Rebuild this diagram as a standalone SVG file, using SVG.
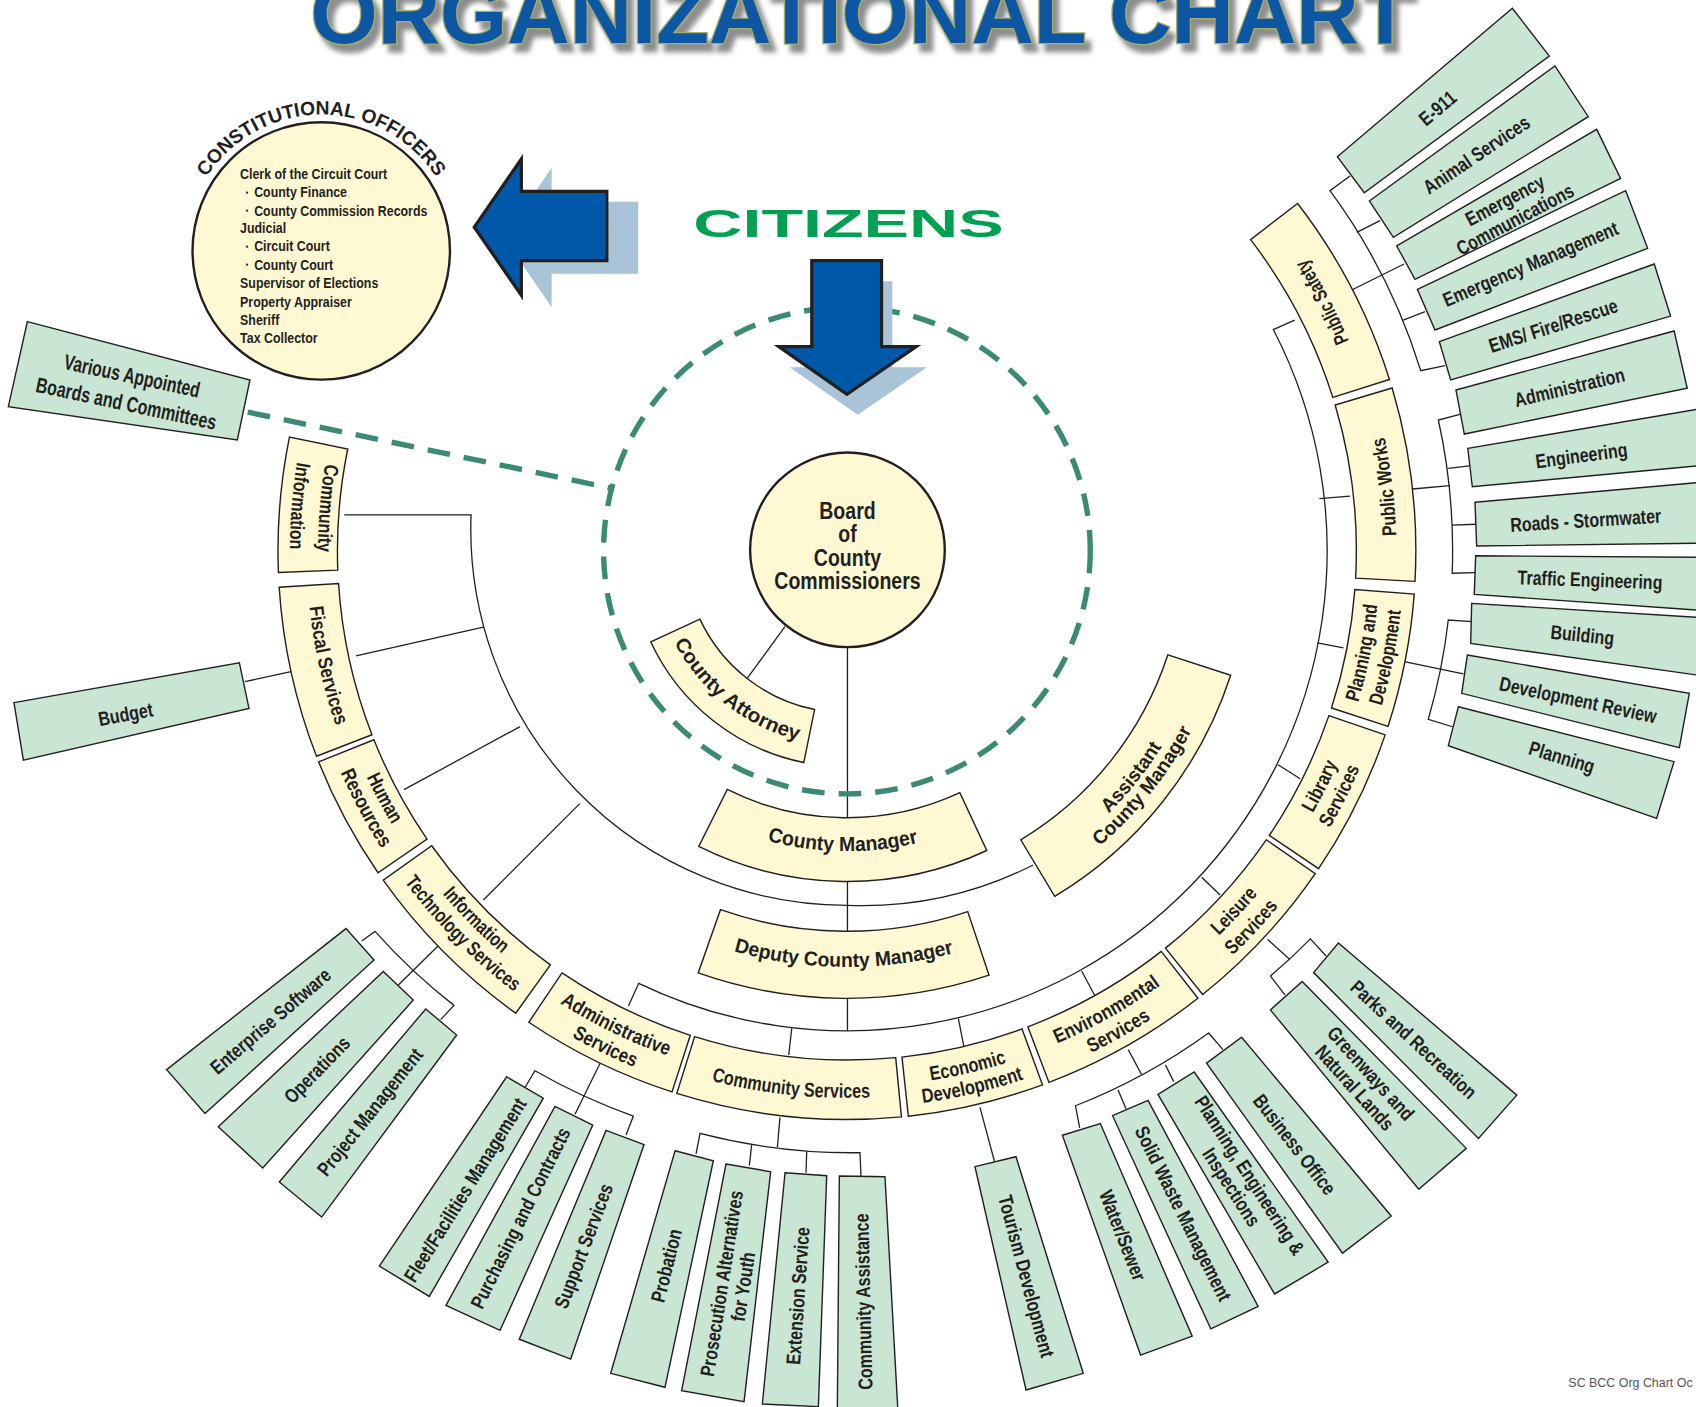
<svg xmlns="http://www.w3.org/2000/svg" width="1696" height="1407" viewBox="0 0 1696 1407">
<defs>
<style>
.y{fill:#fff9d3;stroke:#231f20;stroke-width:1.3}
.g{fill:#c9e5d3;stroke:#231f20;stroke-width:1.3}
.ln{fill:none;stroke:#231f20;stroke-width:1.2}
.n{font-family:"Liberation Sans",Arial,sans-serif;font-weight:bold;fill:#231f20}
.gt{font-size:18.5px;text-anchor:middle}
.rt{font-size:18.5px;text-anchor:middle}
.arr{fill:#0058a8;stroke:#231f20;stroke-width:3}
.shd{fill:#a8c4d6}
</style>
<filter id="ds" x="-5%" y="-60%" width="110%" height="220%">
<feGaussianBlur in="SourceAlpha" stdDeviation="2.5"/>
<feOffset dx="6" dy="7" result="b"/>
<feFlood flood-color="#8d8d8d"/>
<feComposite in2="b" operator="in" result="s"/>
<feMerge><feMergeNode in="s"/><feMergeNode in="SourceGraphic"/></feMerge>
</filter>
<path id="p-co" d="M185.75,172.85 A126,126 0 0 1 408.25,172.85"/>
<path id="tp-cm" d="M658.5,757.6 A278,278 0 0 0 900.5,761"/>
<path id="tp-dcm" d="M655.1,872.1 A385,385 0 0 0 905.2,874.1"/>
<path id="tp-ca" d="M619,585.5 A181,181 0 0 0 746.9,686.4"/>
<path id="tp-acm1" d="M959.6,803 A343,343 0 0 0 1109.2,615"/>
<path id="tp-acm2" d="M968.1,817.2 A359.5,359.5 0 0 0 1124.9,620.1"/>
<path id="tp-ci1" d="M303.8,411.5 A489,489 0 0 0 294.4,527.8"/>
<path id="tp-ci2" d="M278.4,406.3 A515,515 0 0 0 268.4,528.8"/>
<path id="tp-fs" d="M284.5,541.2 A499.5,499.5 0 0 0 317.3,689.6"/>
<path id="tp-hr1" d="M327.1,691.4 A491,491 0 0 0 378.4,787.1"/>
<path id="tp-hr2" d="M308.5,698.8 A511,511 0 0 0 361.9,798.4"/>
<path id="tp-it1" d="M383.2,793.1 A490.5,490.5 0 0 0 497.5,907.8"/>
<path id="tp-it2" d="M366.5,805 A511,511 0 0 0 485.5,924.5"/>
<path id="tp-as1" d="M505.9,919.8 A495.5,495.5 0 0 0 630.7,980.5"/>
<path id="tp-as2" d="M494.2,937.2 A516.5,516.5 0 0 0 624.2,1000.5"/>
<path id="tp-cs" d="M631.7,991.8 A506,506 0 0 0 831.5,1012.7"/>
<path id="tp-ed1" d="M836.6,1002.1 A496,496 0 0 0 953.5,974.8"/>
<path id="tp-ed2" d="M838.7,1021.5 A515.5,515.5 0 0 0 960.2,993.1"/>
<path id="tp-es1" d="M959,972.2 A495.5,495.5 0 0 0 1088.7,898.9"/>
<path id="tp-es2" d="M966.4,991.8 A516.5,516.5 0 0 0 1101.7,915.4"/>
<path id="tp-ls1" d="M1092.5,895.3 A495,495 0 0 0 1190.4,790.1"/>
<path id="tp-ls2" d="M1106.2,912.5 A517,517 0 0 0 1208.5,802.6"/>
<path id="tp-lib1" d="M1192.9,785.5 A494.5,494.5 0 0 0 1250.8,669.2"/>
<path id="tp-lib2" d="M1209.9,797 A515,515 0 0 0 1270.2,675.8"/>
<path id="tp-pd1" d="M1251.9,661.3 A493,493 0 0 0 1274.6,546.8"/>
<path id="tp-pd2" d="M1272.8,668.1 A515,515 0 0 0 1296.5,548.5"/>
<path id="tp-pw" d="M1290.2,536.5 A508,508 0 0 0 1269.8,363.9"/>
<path id="tp-ps" d="M1262.7,357.7 A503,503 0 0 0 1181.5,202.1"/>
</defs>
<rect width="1696" height="1407" fill="#ffffff"/>
<g transform="scale(1.081633)">

<g id="title">
<text x="287" y="40" textLength="1018" lengthAdjust="spacingAndGlyphs" font-family="Liberation Sans, Arial, sans-serif" font-weight="bold" font-size="79" fill="#0b57a4" stroke="#a4ad6a" stroke-width="2.5" paint-order="stroke" filter="url(#ds)">ORGANIZATIONAL CHART</text>
</g>

<g id="citizens">
<text x="641" y="219.5" textLength="287" lengthAdjust="spacingAndGlyphs" font-family="Liberation Sans, Arial, sans-serif" font-weight="bold" font-size="36" fill="#00a053">CITIZENS</text>
</g>

<g id="arrows">
<polygon class="shd" points="466,220 510,155 510,186.5 590,186.5 590,253 510,253 510,284"/>
<polygon class="arr" points="438.5,210 482,147 482,177 561,177 561,241 482,241 482,273"/>
</g>

<g id="connectors">
<path class="ln" d="M725.7,579.4 L690.8,627.1"/>
<path class="ln" d="M783.5,598 L783.5,953"/>
<path class="ln" d="M318.3,476 L435.5,476 A348,348 0 0 0 783,837 A352,352 0 0 0 955.2,799.7"/>
<path class="ln" d="M329.2,606.3 L446.8,579.7"/>
<path class="ln" d="M373.5,730 L480.8,671.8"/>
<path class="ln" d="M446.9,832.1 L536,743"/>
<path class="ln" d="M226.5,630.2 L271.2,620.4"/>
<path class="ln" d="M581,930 L590.5,909.1 A444,444 0 0 0 1177.2,304.7 L1197,296"/>
<path class="ln" d="M732,950.7 L729.2,975.4"/>
<path class="ln" d="M886,941.5 L891,967"/>
<path class="ln" d="M1000,897.7 L1012.4,920.8"/>
<path class="ln" d="M1111,811 L1128,827.5"/>
<path class="ln" d="M1181.6,707 L1202,720"/>
<path class="ln" d="M1218,594.4 L1242,599"/>
<path class="ln" d="M1219.8,460.9 L1248,458.6"/>
<path class="ln" d="M1248.1,162.7 L1229.6,176.3 A556,556 0 0 1 1313.5,342.7 L1336,338.1"/>
<path class="ln" d="M1254.3,214.8 L1275.9,204 M1249.7,268.1 L1298.1,244.1 M1297.4,295.9 L1317.5,288.2"/>
<path class="ln" d="M1349.8,383 L1329.8,388.3 A560,560 0 0 1 1342.6,530 L1363.7,529.5"/>
<path class="ln" d="M1339,433 L1358.4,430.8 M1342.6,485.4 L1364.3,484.7 M1306,452.1 L1340.6,449"/>
<path class="ln" d="M1360.6,574.8 L1339,573.2 A560,560 0 0 1 1320.5,665 L1343,671.9"/>
<path class="ln" d="M1298.3,611.7 L1352.9,623.1"/>
<path class="ln" d="M1187.9,919.8 L1174.6,902.4 A557,557 0 0 0 1211.5,868 L1226,883.8"/>
<path class="ln" d="M1171.9,868.6 L1192.5,887"/>
<path class="ln" d="M998.2,1042.7 L994.3,1022.3 A556,556 0 0 0 1117.4,955 L1130.7,970.4"/>
<path class="ln" d="M1033.6,1007.6 L1041.2,1025.6 M1077.5,984.5 L1085.1,1000 M1043.1,970.4 L1055.4,993.4"/>
<path class="ln" d="M643.5,1066.9 L647.2,1047.8 A556,556 0 0 0 795.1,1065.7 L796,1087.3"/>
<path class="ln" d="M694.9,1058.6 L692.8,1077.7 M745.8,1064.8 L745.2,1084.2 M721.1,1033 L718.7,1060.7"/>
<path class="ln" d="M485.4,1005.4 L494.6,989.9 A560,560 0 0 0 585.5,1031.8 L578.8,1049.3"/>
<path class="ln" d="M554.7,983.3 L531.6,1030.2"/>
<path class="ln" d="M334.4,870 L346.7,861.1 A558,558 0 0 0 419.7,929.5 L407.4,942.7"/>
<path class="ln" d="M405.2,874.3 L368.3,910.7"/>
<path class="ln" d="M906,1023.8 L919.3,1073.4"/>
<circle cx="783" cy="509" r="225" fill="none" stroke="#3a8a76" stroke-width="5" stroke-dasharray="21 13"/>
<path d="M229,381 L564.4,451.2" fill="none" stroke="#3a8a76" stroke-width="5" stroke-dasharray="21 13"/>
</g>

<g id="arrow-down">
<polygon class="shd" points="760.5,260 825,260 825,339.5 857,339.5 793,383.5 730,339.5 760.5,339.5"/>
<polygon class="arr" points="750.5,241 815,241 815,320.5 847,320.5 783,364.5 720,320.5 750.5,320.5"/>
</g>

<g id="constitutional-officers">
<circle cx="297" cy="232" r="119" fill="#fff9d3" stroke="#231f20" stroke-width="2.2"/>
<text class="n" font-size="18" text-anchor="middle"><textPath href="#p-co" startOffset="50%" textLength="252" lengthAdjust="spacingAndGlyphs">CONSTITUTIONAL OFFICERS</textPath></text>
<g class="n" font-size="14.3" transform="translate(222,0) scale(0.8,1)">
<text x="0" y="165.5">Clerk of the Circuit Court</text>
<text x="6.5" y="181"><tspan font-size="8">•</tspan><tspan x="16.25" y="182.5">County Finance</tspan></text>
<text x="6.5" y="198"><tspan font-size="8">•</tspan><tspan x="16.25" y="199.5">County Commission Records</tspan></text>
<text x="0" y="215.5">Judicial</text>
<text x="6.5" y="231"><tspan font-size="8">•</tspan><tspan x="16.25" y="232.5">Circuit Court</tspan></text>
<text x="6.5" y="248"><tspan font-size="8">•</tspan><tspan x="16.25" y="249.5">County Court</tspan></text>
<text x="0" y="266.5">Supervisor of Elections</text>
<text x="0" y="283.5">Property Appraiser</text>
<text x="0" y="300.5">Sheriff</text>
<text x="0" y="317.5">Tax Collector</text>
</g>
</g>

<g id="board">
<circle cx="783.5" cy="508.3" r="90" fill="#fff9d3" stroke="#231f20" stroke-width="2.2"/>
<g class="n" font-size="22" text-anchor="middle" transform="translate(783.5,0) scale(0.82,1)">
<text x="0" y="479.5">Board</text>
<text x="0" y="501">of</text>
<text x="0" y="523">County</text>
<text x="0" y="545">Commissioners</text>
</g>
</g>

<g id="county-attorney">
<path class="y" d="M647.1,572.4 A150,150 0 0 0 753.1,656 L743.1,705 A200,200 0 0 1 601.7,593.5 Z"/>
<text class="n" font-size="18.5" text-anchor="middle"><textPath href="#tp-ca" startOffset="50%" textLength="150" lengthAdjust="spacingAndGlyphs">County Attorney</textPath></text>
</g>

<g id="county-manager">
<path class="y" d="M672.4,729.9 A247,247 0 0 0 887.4,732.9 L912.3,786.3 A306,306 0 0 1 646,782.6 Z"/>
<text class="n" font-size="19" text-anchor="middle"><textPath href="#tp-cm" startOffset="50%" textLength="141" lengthAdjust="spacingAndGlyphs">County Manager</textPath></text>
</g>

<g id="assistant-county-manager">
<path class="y" d="M943.7,776.4 A312,312 0 0 0 1079.7,605.4 L1137.8,624.3 A373,373 0 0 1 975.1,828.7 Z"/>
<text class="n" font-size="18" text-anchor="middle"><textPath href="#tp-acm1" startOffset="50%" textLength="79" lengthAdjust="spacingAndGlyphs">Assistant</textPath></text>
<text class="n" font-size="18" text-anchor="middle"><textPath href="#tp-acm2" startOffset="50%" textLength="138" lengthAdjust="spacingAndGlyphs">County Manager</textPath></text>
</g>

<g id="deputy-county-manager">
<path class="y" d="M666.1,841 A352,352 0 0 0 894.7,842.8 L914.4,901.6 A414,414 0 0 1 645.5,899.5 Z"/>
<text class="n" font-size="18.5" text-anchor="middle"><textPath href="#tp-dcm" startOffset="50%" textLength="206" lengthAdjust="spacingAndGlyphs">Deputy County Manager</textPath></text>
</g>

<g id="community-information">
<path class="y" d="M321.5,415.1 A471,471 0 0 0 312.3,527.1 L257.4,529.2 A526,526 0 0 1 267.6,404.1 Z"/>
<text class="n rt"><textPath href="#tp-ci1" startOffset="50%" textLength="82" lengthAdjust="spacingAndGlyphs">Community</textPath></text>
<text class="n rt"><textPath href="#tp-ci2" startOffset="50%" textLength="81" lengthAdjust="spacingAndGlyphs">Information</textPath></text>
</g>
<g id="fiscal-services">
<path class="y" d="M313,539.4 A471,471 0 0 0 343.9,679.3 L292.6,699.2 A526,526 0 0 1 258.1,542.9 Z"/>
<text class="n rt"><textPath href="#tp-fs" startOffset="50%" textLength="113" lengthAdjust="spacingAndGlyphs">Fiscal Services</textPath></text>
</g>
<g id="human-resources">
<path class="y" d="M345.7,683.9 A471,471 0 0 0 394.8,775.8 L349.5,806.9 A526,526 0 0 1 294.6,704.4 Z"/>
<text class="n rt"><textPath href="#tp-hr1" startOffset="50%" textLength="50" lengthAdjust="spacingAndGlyphs">Human</textPath></text>
<text class="n rt"><textPath href="#tp-hr2" startOffset="50%" textLength="80" lengthAdjust="spacingAndGlyphs">Resources</textPath></text>
</g>
<g id="information-technology">
<path class="y" d="M399.1,781.9 A471,471 0 0 0 508.8,892 L476.8,936.7 A526,526 0 0 1 354.3,813.7 Z"/>
<text class="n rt" font-size="16.5"><textPath href="#tp-it1" startOffset="50%" textLength="78" lengthAdjust="spacingAndGlyphs">Information</textPath></text>
<text class="n rt" font-size="16.5"><textPath href="#tp-it2" startOffset="50%" textLength="144" lengthAdjust="spacingAndGlyphs">Technology Services</textPath></text>
</g>
<g id="administrative-services">
<path class="y" d="M519.6,899.5 A471,471 0 0 0 638.2,957.2 L621.3,1009.5 A526,526 0 0 1 488.9,945.1 Z"/>
<text class="n rt"><textPath href="#tp-as1" startOffset="50%" textLength="111" lengthAdjust="spacingAndGlyphs">Administrative</textPath></text>
<text class="n rt"><textPath href="#tp-as2" startOffset="50%" textLength="64" lengthAdjust="spacingAndGlyphs">Services</textPath></text>
</g>
<g id="community-services">
<path class="y" d="M642.2,958.4 A471,471 0 0 0 828.1,977.8 L833.4,1032.6 A526,526 0 0 1 625.7,1010.9 Z"/>
<text class="n rt"><textPath href="#tp-cs" startOffset="50%" textLength="148" lengthAdjust="spacingAndGlyphs">Community Services</textPath></text>
</g>
<g id="economic-development">
<path class="y" d="M833.9,977.3 A471,471 0 0 0 944.9,951.3 L963.8,1003 A526,526 0 0 1 839.8,1032 Z"/>
<text class="n rt"><textPath href="#tp-ed1" startOffset="50%" textLength="72" lengthAdjust="spacingAndGlyphs">Economic</textPath></text>
<text class="n rt"><textPath href="#tp-ed2" startOffset="50%" textLength="96" lengthAdjust="spacingAndGlyphs">Development</textPath></text>
</g>
<g id="environmental-services">
<path class="y" d="M950.3,949.3 A471,471 0 0 0 1073.6,879.6 L1107.5,922.9 A526,526 0 0 1 969.8,1000.7 Z"/>
<text class="n rt"><textPath href="#tp-es1" startOffset="50%" textLength="110" lengthAdjust="spacingAndGlyphs">Environmental</textPath></text>
<text class="n rt"><textPath href="#tp-es2" startOffset="50%" textLength="64" lengthAdjust="spacingAndGlyphs">Services</textPath></text>
</g>
<g id="leisure-services">
<path class="y" d="M1077.5,876.6 A471,471 0 0 0 1170.7,776.4 L1216,807.7 A526,526 0 0 1 1111.9,919.5 Z"/>
<text class="n rt"><textPath href="#tp-ls1" startOffset="50%" textLength="53" lengthAdjust="spacingAndGlyphs">Leisure</textPath></text>
<text class="n rt"><textPath href="#tp-ls2" startOffset="50%" textLength="62" lengthAdjust="spacingAndGlyphs">Services</textPath></text>
</g>
<g id="library-services">
<path class="y" d="M1173.5,772.4 A471,471 0 0 0 1228.6,661.6 L1280.6,679.4 A526,526 0 0 1 1219.1,803.1 Z"/>
<text class="n rt"><textPath href="#tp-lib1" startOffset="50%" textLength="51" lengthAdjust="spacingAndGlyphs">Library</textPath></text>
<text class="n rt"><textPath href="#tp-lib2" startOffset="50%" textLength="62" lengthAdjust="spacingAndGlyphs">Services</textPath></text>
</g>
<g id="planning-development">
<path class="y" d="M1231,654.5 A471,471 0 0 0 1252.6,545.1 L1307.5,549.3 A526,526 0 0 1 1283.3,671.5 Z"/>
<text class="n rt" font-size="17.5"><textPath href="#tp-pd1" startOffset="50%" textLength="92" lengthAdjust="spacingAndGlyphs">Planning and</textPath></text>
<text class="n rt" font-size="17.5"><textPath href="#tp-pd2" startOffset="50%" textLength="90" lengthAdjust="spacingAndGlyphs">Development</textPath></text>
</g>
<g id="public-works">
<path class="y" d="M1253.3,534.5 A471,471 0 0 0 1234.4,374.4 L1287.1,358.7 A526,526 0 0 1 1308.2,537.5 Z"/>
<text class="n rt" font-size="17.5"><textPath href="#tp-pw" startOffset="50%" textLength="92" lengthAdjust="spacingAndGlyphs">Public Works</textPath></text>
</g>
<g id="public-safety">
<path class="y" d="M1232.2,367.4 A471,471 0 0 0 1156.2,221.6 L1199.7,188.1 A526,526 0 0 1 1284.6,350.8 Z"/>
<text class="n rt" font-size="17"><textPath href="#tp-ps" startOffset="50%" textLength="86" lengthAdjust="spacingAndGlyphs">Public Safety</textPath></text>
</g>

<g id="various-boards">
<polygon class="g" points="25.3,297.4 231.1,351.3 219.4,406.8 7.7,376"/>
<g transform="translate(119.5,360) rotate(12)" class="n" font-size="20" text-anchor="middle">
<text y="-5.8" textLength="128" lengthAdjust="spacingAndGlyphs">Various Appointed</text>
<text y="20.2" textLength="170" lengthAdjust="spacingAndGlyphs">Boards and Committees</text>
</g>
</g>
<g id="budget">
<polygon class="g" points="12.9,649.6 221.3,612.7 230.2,654.9 21.6,702.7"/>
<text class="n gt" font-size="19.5" transform="translate(116,660) rotate(-10.5) scale(0.8,1)" y="6.8">Budget</text>
</g>

<g id="e911"><polygon class="g" points="1236.4,144.9 1398.2,7.7 1432.4,51.8 1261.3,178.2"/>
<text class="n gt" transform="translate(1329,100) rotate(-40) scale(0.8,1)" y="6.5">E-911</text></g>
<g id="animal-services"><polygon class="g" points="1266,185.8 1437.6,61 1468.4,107.9 1288.2,219.4"/>
<text class="n gt" transform="translate(1365,143) rotate(-34) scale(0.8,1)" y="6.5">Animal Services</text></g>
<g id="emergency-communications"><polygon class="g" points="1291.3,227.4 1476.2,119.6 1498.3,164.9 1308.2,258.2"/>
<g class="n gt" transform="translate(1396,194) rotate(-28) scale(0.8,1)"><text y="-3.5">Emergency</text><text y="16.5">Communications</text></g></g>
<g id="emergency-management"><polygon class="g" points="1310.4,267.5 1503,176.3 1523.3,229.6 1326.7,305.1"/>
<text class="n gt" transform="translate(1415,244) rotate(-23) scale(0.8,1)" y="6.5">Emergency Management</text></g>
<g id="ems-fire-rescue"><polygon class="g" points="1330.7,315.9 1529.4,244.1 1544.5,292.2 1341.2,351.3"/>
<text class="n gt" transform="translate(1436,301) rotate(-18) scale(0.8,1)" y="6.5">EMS/ Fire/Rescue</text></g>
<g id="administration"><polygon class="g" points="1346.1,360.6 1547.8,306 1559.9,359 1353.8,401.3"/>
<text class="n gt" transform="translate(1451,358) rotate(-13.4) scale(0.8,1)" y="6.5">Administration</text></g>
<g id="engineering"><polygon class="g" points="1357,414.5 1575,377.4 1575,430.2 1361.2,450"/>
<text class="n gt" transform="translate(1462,421) rotate(-7.5) scale(0.8,1)" y="6.5">Engineering</text></g>
<g id="roads-stormwater"><polygon class="g" points="1363.7,464.4 1575,445.7 1575,502.1 1365.2,504.8"/>
<text class="n gt" transform="translate(1466,481) rotate(-3.5) scale(0.8,1)" y="6.5">Roads - Stormwater</text></g>
<g id="traffic-engineering"><polygon class="g" points="1364.3,513.8 1575,515.3 1575,564.5 1363,549.5"/>
<text class="n gt" transform="translate(1470,536) rotate(2) scale(0.8,1)" y="6.5">Traffic Engineering</text></g>
<g id="building"><polygon class="g" points="1360.6,557.8 1575,571.1 1575,624.9 1359.7,594.8"/>
<text class="n gt" transform="translate(1463,587) rotate(5.8) scale(0.8,1)" y="6.5">Building</text></g>
<g id="development-review"><polygon class="g" points="1356.6,605.6 1561.8,641 1552.6,691.3 1351.4,641"/>
<text class="n gt" transform="translate(1459,647) rotate(12) scale(0.8,1)" y="6.5">Development Review</text></g>
<g id="planning"><polygon class="g" points="1348.3,653.4 1547.7,704.2 1531.6,756.6 1339,689.4"/>
<text class="n gt" transform="translate(1444,700) rotate(16.8) scale(0.8,1)" y="6.5">Planning</text></g>

<g id="enterprise-software"><polygon class="g" points="154.1,988.9 319.9,858.5 345.8,887.6 189.5,1029.5"/>
<text class="n gt" transform="translate(250,944) rotate(-40.5) scale(0.8,1)" y="6.5">Enterprise Software</text></g>
<g id="operations"><polygon class="g" points="201.8,1041.8 354.4,898.1 382.1,924.6 242.9,1079.8"/>
<text class="n gt" transform="translate(293,989) rotate(-45.7) scale(0.8,1)" y="6.5">Operations</text></g>
<g id="project-management"><polygon class="g" points="258.2,1092.8 393.6,932.8 422.2,956.9 297.4,1125.2"/>
<text class="n gt" transform="translate(342,1028) rotate(-51.6) scale(0.8,1)" y="6.5">Project Management</text></g>
<g id="fleet-facilities"><polygon class="g" points="350.7,1170.5 468.4,995.5 502.3,1015.3 396.9,1198.6"/>
<text class="n gt" transform="translate(430,1100) rotate(-58) scale(0.8,1)" y="6.5">Fleet/Facilities Management</text></g>
<g id="purchasing"><polygon class="g" points="412.3,1206.9 513.1,1022.9 548,1040.1 462.3,1230"/>
<text class="n gt" transform="translate(481,1126) rotate(-63.5) scale(0.8,1)" y="6.5">Purchasing and Contracts</text></g>
<g id="support-services"><polygon class="g" points="480.1,1238.2 560.3,1045.1 595.4,1058.2 527.6,1256.5"/>
<text class="n gt" transform="translate(539.5,1152) rotate(-69.3) scale(0.8,1)" y="6.5">Support Services</text></g>
<g id="probation"><polygon class="g" points="624.1,1063.9 659.5,1073.1 614.8,1282.6 564.6,1269.7"/>
<text class="n gt" transform="translate(616,1170) rotate(-76) scale(0.8,1)" y="6.5">Probation</text></g>
<g id="prosecution-alternatives"><polygon class="g" points="671.2,1076.2 712.5,1083.3 687.9,1295.9 630.2,1285.7"/>
<g class="n gt" transform="translate(677,1188) rotate(-81) scale(0.8,1)"><text y="-3.5">Prosecution Alternatives</text><text y="16.5">for Youth</text></g></g>
<g id="extension-service"><polygon class="g" points="725.8,1084.2 764.3,1087 756.6,1300.5 704.8,1298"/>
<text class="n gt" transform="translate(737.5,1198) rotate(-86) scale(0.8,1)" y="6.5">Extension Service</text></g>
<g id="community-assistance"><polygon class="g" points="776,1087.3 818.2,1087.9 831,1320 774,1320"/>
<text class="n gt" transform="translate(798.2,1203.4) rotate(-91.3) scale(0.8,1)" y="6.5">Community Assistance</text></g>
<g id="tourism-development"><polygon class="g" points="901.4,1078.6 939.3,1069.4 1001.5,1269.7 948.6,1285.1"/>
<text class="n gt" transform="translate(949,1180) rotate(75) scale(0.8,1)" y="6.5">Tourism Development</text></g>
<g id="water-sewer"><polygon class="g" points="982.2,1049.6 1017.3,1038.7 1102.2,1235.3 1054.5,1252.8"/>
<text class="n gt" transform="translate(1038,1142) rotate(68.5) scale(0.8,1)" y="6.5">Water/Sewer</text></g>
<g id="solid-waste"><polygon class="g" points="1028.6,1031.5 1061.4,1017.3 1163.2,1207.9 1119.4,1228.6"/>
<text class="n gt" transform="translate(1094,1122) rotate(63.6) scale(0.8,1)" y="6.5">Solid Waste Management</text></g>
<g id="planning-engineering-inspections"><polygon class="g" points="1070.6,1011.8 1104.1,991.1 1227.9,1166.9 1178.4,1196.3"/>
<g class="n gt" transform="translate(1147,1092) rotate(57.2) scale(0.8,1)"><text y="-3.5">Planning, Engineering &amp;</text><text y="16.5">Inspections</text></g></g>
<g id="business-office"><polygon class="g" points="1115.5,982.9 1147.9,958.9 1286.2,1124.2 1241.2,1158.6"/>
<text class="n gt" transform="translate(1197,1058) rotate(52.2) scale(0.8,1)" y="6.5">Business Office</text></g>
<g id="parks-recreation"><polygon class="g" points="1214.5,899.2 1237.4,871.9 1402.3,1012.5 1366.9,1052.5"/>
<text class="n gt" transform="translate(1307,961) rotate(42.8) scale(0.8,1)" y="6.5">Parks and Recreation</text></g>
<g id="greenways"><polygon class="g" points="1174.5,933.7 1203.9,907.4 1355.6,1061.7 1311.7,1099.5"/>
<g class="n gt" transform="translate(1260,999) rotate(48) scale(0.8,1)"><text y="-3.5">Greenways and</text><text y="16.5">Natural Lands</text></g></g>

<text x="1450" y="1282" font-family="Liberation Sans, Arial, sans-serif" font-size="11.5" fill="#555555">SC BCC Org Chart Oc</text>
</g>
</svg>
